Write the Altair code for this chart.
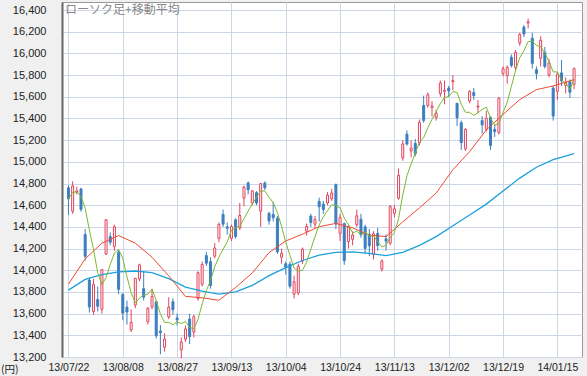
import altair as alt
import pandas as pd

# ---- data (Nikkei 225 daily candles) ----
dates = [
    "13/07/22", "13/07/23", "13/07/24", "13/07/25", "13/07/26", "13/07/29", "13/07/30", "13/07/31",
    "13/08/01", "13/08/02", "13/08/05", "13/08/06", "13/08/07", "13/08/08", "13/08/09", "13/08/12",
    "13/08/13", "13/08/14", "13/08/15", "13/08/16", "13/08/19", "13/08/20", "13/08/21", "13/08/22",
    "13/08/23", "13/08/26", "13/08/27", "13/08/28", "13/08/29", "13/08/30", "13/09/02", "13/09/03",
    "13/09/04", "13/09/05", "13/09/06", "13/09/09", "13/09/10", "13/09/11", "13/09/12", "13/09/13",
    "13/09/17", "13/09/18", "13/09/19", "13/09/20", "13/09/24", "13/09/25", "13/09/26", "13/09/27",
    "13/09/30", "13/10/01", "13/10/02", "13/10/03", "13/10/04", "13/10/07", "13/10/08", "13/10/09",
    "13/10/10", "13/10/11", "13/10/15", "13/10/16", "13/10/17", "13/10/18", "13/10/21", "13/10/22",
    "13/10/23", "13/10/24", "13/10/25", "13/10/28", "13/10/29", "13/10/30", "13/10/31", "13/11/01",
    "13/11/05", "13/11/06", "13/11/07", "13/11/08", "13/11/11", "13/11/12", "13/11/13", "13/11/14",
    "13/11/15", "13/11/18", "13/11/19", "13/11/20", "13/11/21", "13/11/22", "13/11/25", "13/11/26",
    "13/11/27", "13/11/28", "13/11/29", "13/12/02", "13/12/03", "13/12/04", "13/12/05", "13/12/06",
    "13/12/09", "13/12/10", "13/12/11", "13/12/12", "13/12/13", "13/12/16", "13/12/17", "13/12/18",
    "13/12/19", "13/12/20", "13/12/24", "13/12/25", "13/12/26", "13/12/27", "13/12/30", "14/01/06",
    "14/01/07", "14/01/08", "14/01/09", "14/01/10", "14/01/14", "14/01/15", "14/01/16", "14/01/17",
    "14/01/20", "14/01/21",
]
opens = [
    14760, 14545, 14720, 14750, 14330, 13910, 13620, 13730, 13640, 14150, 14310, 14220, 14165, 13775,
    13660, 13450, 13680, 13920, 13830, 13525, 13660, 13710, 13440, 13290, 13570, 13710, 13560, 13265,
    13365, 13550, 13430, 13740, 13870, 14135, 14080, 14130, 14295, 14515, 14400, 14295, 14465, 14390,
    14665, 14805, 14620, 14715, 14545, 14805, 14525, 14515, 14480, 14120, 14060, 14057, 13780, 13790,
    14085, 14360, 14500, 14425, 14635, 14610, 14620, 14660, 14790, 14340, 14430, 14265, 14285, 14420,
    14470, 14400, 14330, 14145, 14340, 14010, 14290, 14250, 14525, 14665, 15035, 15255, 15100, 15170,
    15175, 15520, 15520, 15500, 15410, 15630, 15650, 15680, 15738, 15540, 15360, 15120, 15560, 15640,
    15505, 15380, 15300, 15410, 15300, 15270, 15815, 15795, 15965, 15870, 16095, 16243, 16280, 16140,
    15850, 15955, 16010, 15800, 15680, 15650, 15820, 15705, 15740, 15715,
]
highs = [
    14785, 14820, 14770, 14760, 14380, 13930, 13920, 13850, 14010, 14470, 14350, 14420, 14185, 13790,
    13720, 13640, 13930, 14060, 13990, 13660, 13830, 13720, 13495, 13420, 13750, 13740, 13600, 13380,
    13490, 13600, 13590, 13990, 14080, 14170, 14120, 14250, 14440, 14560, 14440, 14420, 14480, 14620,
    14780, 14820, 14740, 14730, 14800, 14820, 14540, 14630, 14500, 14200, 14080, 14080, 13950, 14060,
    14210, 14430, 14520, 14500, 14670, 14640, 14720, 14750, 14800, 14520, 14440, 14420, 14360, 14560,
    14520, 14420, 14380, 14360, 14390, 14100, 14330, 14600, 14600, 14940, 15200, 15290, 15200, 15210,
    15390, 15610, 15640, 15560, 15480, 15750, 15750, 15700, 15800, 15540, 15380, 15310, 15660, 15680,
    15570, 15420, 15470, 15420, 15340, 15600, 15880, 15890, 15990, 16030, 16190, 16260, 16320, 16190,
    15880, 16160, 16060, 15950, 15700, 15830, 15940, 15780, 15760, 15870,
]
lows = [
    14510, 14520, 14700, 14540, 14090, 13610, 13590, 13620, 13600, 14140, 14230, 14180, 13780, 13540,
    13500, 13430, 13650, 13900, 13720, 13500, 13640, 13370, 13225, 13250, 13550, 13590, 13490, 13188,
    13340, 13320, 13380, 13720, 13850, 14040, 13830, 14110, 14260, 14400, 14330, 14270, 14290, 14370,
    14590, 14700, 14600, 14600, 14400, 14740, 14420, 14450, 14150, 14060, 13960, 13830, 13740, 13770,
    14060, 14320, 14400, 14390, 14450, 14520, 14600, 14640, 14380, 14270, 14050, 14200, 14230, 14400,
    14300, 14150, 14130, 14100, 14180, 13990, 14180, 14230, 14490, 14650, 15010, 15150, 15040, 15050,
    15150, 15360, 15500, 15420, 15380, 15600, 15530, 15600, 15660, 15330, 15110, 15100, 15540, 15570,
    15450, 15260, 15280, 15110, 15230, 15250, 15790, 15720, 15870, 15840, 16070, 16150, 16230, 15860,
    15760, 15880, 15860, 15780, 15380, 15570, 15700, 15630, 15590, 15670,
]
closes = [
    14658, 14778, 14731, 14562, 14129, 13661, 13869, 13668, 14005, 14466, 14258, 14401, 13824, 13605,
    13615, 13519, 13925, 14050, 13752, 13650, 13758, 13396, 13424, 13365, 13660, 13636, 13542, 13338,
    13459, 13389, 13572, 13978, 14053, 14065, 13860, 14205, 14423, 14425, 14387, 14404, 14311, 14505,
    14766, 14742, 14732, 14620, 14799, 14760, 14455, 14484, 14170, 14157, 14024, 13853, 13894, 14037,
    14194, 14404, 14441, 14467, 14586, 14561, 14693, 14713, 14426, 14486, 14088, 14396, 14325, 14502,
    14327, 14201, 14225, 14337, 14228, 14086, 14269, 14589, 14567, 14876, 15165, 15164, 15126, 15076,
    15365, 15381, 15619, 15515, 15449, 15727, 15661, 15655, 15749, 15407, 15177, 15299, 15650, 15611,
    15515, 15341, 15403, 15152, 15279, 15586, 15859, 15870, 15889, 16010, 16174, 16179, 16291, 15908,
    15814, 16121, 15880, 15912, 15422, 15808, 15747, 15734, 15641, 15860,
]

# moving averages at sample days
ma_dates = [
    "13/07/22", "13/07/26", "13/08/01", "13/08/07", "13/08/13", "13/08/19", "13/08/23", "13/08/29",
    "13/09/04", "13/09/10", "13/09/17", "13/09/24", "13/09/30", "13/10/04", "13/10/10", "13/10/17",
    "13/10/23", "13/10/29", "13/11/05", "13/11/11", "13/11/15", "13/11/21", "13/11/27", "13/12/03",
    "13/12/09", "13/12/13", "13/12/19", "13/12/26", "14/01/07", "14/01/14", "14/01/21",
]
ma25 = [
    13872, 14105, 14250, 14320, 14250, 14120, 13949, 13759, 13746, 13723, 13841, 13976, 14163, 14270,
    14333, 14402, 14432, 14391, 14324, 14311, 14446, 14575, 14712, 14927, 15094, 15294, 15437, 15574,
    15666, 15700, 15758,
]
ma75 = [
    13817, 13915, 13960, 13985, 13993, 13978, 13922, 13845, 13807, 13780, 13800, 13860, 13950, 14025,
    14090, 14140, 14165, 14170, 14155, 14135, 14165, 14230, 14310, 14410, 14510, 14610, 14730, 14850,
    14950, 15020, 15076,
]

tick_labels = ["13/07/22", "13/08/08", "13/08/27", "13/09/13", "13/10/04",
               "13/10/24", "13/11/13", "13/12/02", "13/12/19", "14/01/15"]
y_ticks = list(range(13200, 16401, 200))

title_text = "ローソク足+移動平均"
unit_text = "(円)"

RED = "#e2445c"
BLUE = "#3d7fbf"
GREEN = "#7cb82f"
MA_RED = "#ef4a32"
MA_BLUE = "#1ea0dc"
GRID = "#cdd7e8"

# ---- tables ----
n = len(dates)
df = pd.DataFrame({
    "i": list(range(n)), "date": dates, "open": opens, "high": highs,
    "low": lows, "close": closes,
})
df["dir"] = ["up" if c >= o else "down" for o, c in zip(opens, closes)]

ma_df = pd.DataFrame({
    "i": [dates.index(d) for d in ma_dates], "ma25": ma25, "ma75": ma75,
})

tick_idx = [dates.index(t) for t in tick_labels]
label_expr = "[" + ",".join("'%s'" % t for t in tick_labels) + "][indexof(" + \
    "[" + ",".join(str(v) for v in tick_idx) + "], datum.value)]"

W, H = 520, 355
xscale = alt.Scale(domain=[-0.35, 121.7], nice=False, zero=False)
yscale = alt.Scale(domain=[13200, 16474], nice=False, zero=False)

x_axis = alt.Axis(values=tick_idx, labelExpr=label_expr, grid=True, gridColor=GRID,
                  domain=False, ticks=False, labelPadding=5, labelFontSize=10.5,
                  labelFont="Liberation Sans", labelColor="#222", title=None,
                  labelFlush=False, labelOverlap=False)
y_axis = alt.Axis(values=y_ticks, format=",d", grid=True, gridColor=GRID,
                  domain=True, domainColor="#666", domainWidth=2, ticks=False,
                  labelPadding=16, labelFontSize=11, labelFont="Liberation Sans",
                  labelColor="#222", title=None, labelOverlap=False)


def X():
    return alt.X("i:Q", scale=xscale, axis=x_axis)


def Y(field):
    return alt.Y(field, scale=yscale, axis=y_axis)


base = alt.Chart(df)

wicks = base.mark_rule(strokeWidth=1).encode(
    x=X(),
    y=Y("low:Q"),
    y2="high:Q",
    color=alt.Color("dir:N", scale=alt.Scale(domain=["up", "down"], range=[RED, BLUE]), legend=None),
)

bodies = base.mark_bar(size=2, strokeWidth=1).encode(
    x=X(),
    y=Y("open:Q"),
    y2="close:Q",
    fill=alt.Fill("dir:N", scale=alt.Scale(domain=["up", "down"], range=["white", BLUE]), legend=None),
    stroke=alt.Stroke("dir:N", scale=alt.Scale(domain=["up", "down"], range=[RED, BLUE]), legend=None),
)

line75 = alt.Chart(ma_df).mark_line(color=MA_BLUE, strokeWidth=1.3).encode(
    x=X(), y=Y("ma75:Q"))
line25 = alt.Chart(ma_df).mark_line(color=MA_RED, strokeWidth=1).encode(
    x=X(), y=Y("ma25:Q"))
line5 = base.transform_window(
    ma5="mean(close)", frame=[-4, 0], sort=[alt.SortField("i")]
).mark_line(color=GREEN, strokeWidth=1).encode(x=X(), y=Y("ma5:Q"))

title = alt.Chart(pd.DataFrame({"t": [title_text]})).mark_text(
    align="left", baseline="middle", fontSize=12, font="Noto Sans CJK JP", color="#888"
).encode(x=alt.value(3), y=alt.value(8), text="t:N")

unit = alt.Chart(pd.DataFrame({"t": [unit_text]})).mark_text(
    align="left", baseline="middle", fontSize=10.5, font="Noto Sans CJK JP", color="#222"
).encode(x=alt.value(-61), y=alt.value(H + 12.5), text="t:N")

chart = alt.layer(wicks, bodies, line75, line25, line5, title, unit).properties(
    width=W, height=H, autosize="none",
    padding={"left": 62, "top": 2, "right": 5, "bottom": 19},
    background="#f0f0f0",
).configure_view(fill="white", stroke="#999", strokeWidth=1)

chart.save("out.html", embed_options={"renderer": "svg", "actions": False})
